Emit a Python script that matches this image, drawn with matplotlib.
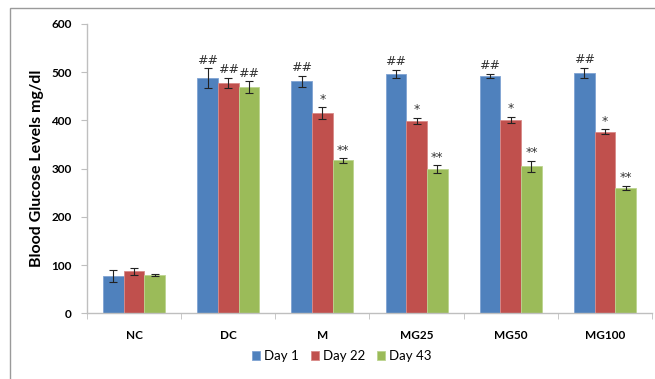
import numpy as np
import matplotlib.pyplot as plt
from matplotlib.patches import Rectangle

groups = ["NC", "DC", "M", "MG25", "MG50", "MG100"]
days = ["Day 1", "Day 22", "Day 43"]

day1 = [77, 488, 481, 497, 492, 499]
day22 = [87, 478, 415, 399, 401, 377]
day43 = [79, 469, 317, 299, 305, 260]

day1_err = [13, 20, 12, 8, 5, 10]
day22_err = [7, 11, 12, 7, 7, 5]
day43_err = [2, 12, 5, 8, 11, 5]

day1_sig = ["", "##", "##", "##", "##", "##"]
day22_sig = ["", "##", "*", "*", "*", "*"]
day43_sig = ["", "##", "**", "**", "**", "**"]

colors = ["#4F81BD", "#C0504D", "#9BBB59"]
edges = ["#7fa3d3", "#d98a88", "#bcd48f"]

plt.rcParams['font.family'] = ['Lato', 'DejaVu Sans']

fig = plt.figure(figsize=(6.55, 3.79), dpi=100)
ax = fig.add_axes([87/655, 1-313.3/379, (652-87)/655, (313.3-24)/379])

# grey frame round the chart
fig.patches.append(Rectangle((10/655, -0.01), 1.0, 1-8/379+0.01,
                             transform=fig.transFigure, fill=False,
                             edgecolor="#9a9a9a", linewidth=1.0))

x = np.arange(len(groups))
w = 0.22
series = [(day1, day1_err, day1_sig), (day22, day22_err, day22_sig), (day43, day43_err, day43_sig)]
for i, (vals, errs, sigs) in enumerate(series):
    pos = x + (i - 1) * w
    ax.bar(pos, vals, w, color=colors[i], edgecolor=edges[i], linewidth=0.6,
           label=days[i], zorder=2)
    ax.errorbar(pos, vals, yerr=errs, fmt="none", ecolor="#222222",
                elinewidth=0.8, capsize=2.8, capthick=0.8, zorder=3)
    for p, v, e, s in zip(pos, vals, errs, sigs):
        if s:
            ax.text(p, v + e + 3, s, ha="center", va="bottom", fontsize=9,
                    style="italic", color="#333333", family="DejaVu Sans")

ax.set_xlim(-0.5, len(groups) - 0.5)
ax.set_ylim(0, 600)
ax.set_yticks([0, 100, 200, 300, 400, 500, 600])
ax.set_xticks(x)
ax.set_xticklabels(groups, fontsize=8.5, fontweight="bold")
ax.set_xticks(np.arange(len(groups) + 1) - 0.5, minor=True)
for lab in ax.get_yticklabels():
    lab.set_fontsize(8.5)
    lab.set_fontweight("bold")

ax.tick_params(axis="x", which="major", length=0, pad=12)
ax.tick_params(axis="x", which="minor", length=4, color="#bfbfbf")
ax.tick_params(axis="y", length=4, color="#bfbfbf", pad=7)

for side in ["top", "right"]:
    ax.spines[side].set_visible(False)
for side in ["left", "bottom"]:
    ax.spines[side].set_color("#bfbfbf")
    ax.spines[side].set_linewidth(1.0)

ax.set_ylabel("Blood Glucose Levels mg/dl", fontsize=11.5, fontweight="bold", labelpad=5)

fig.legend(loc="center", bbox_to_anchor=(0.522, 1-356/379), ncol=3, frameon=False,
           fontsize=9.5, handlelength=0.6, handleheight=0.6, handletextpad=0.3,
           columnspacing=0.9)

fig.savefig("out.png", dpi=100)
